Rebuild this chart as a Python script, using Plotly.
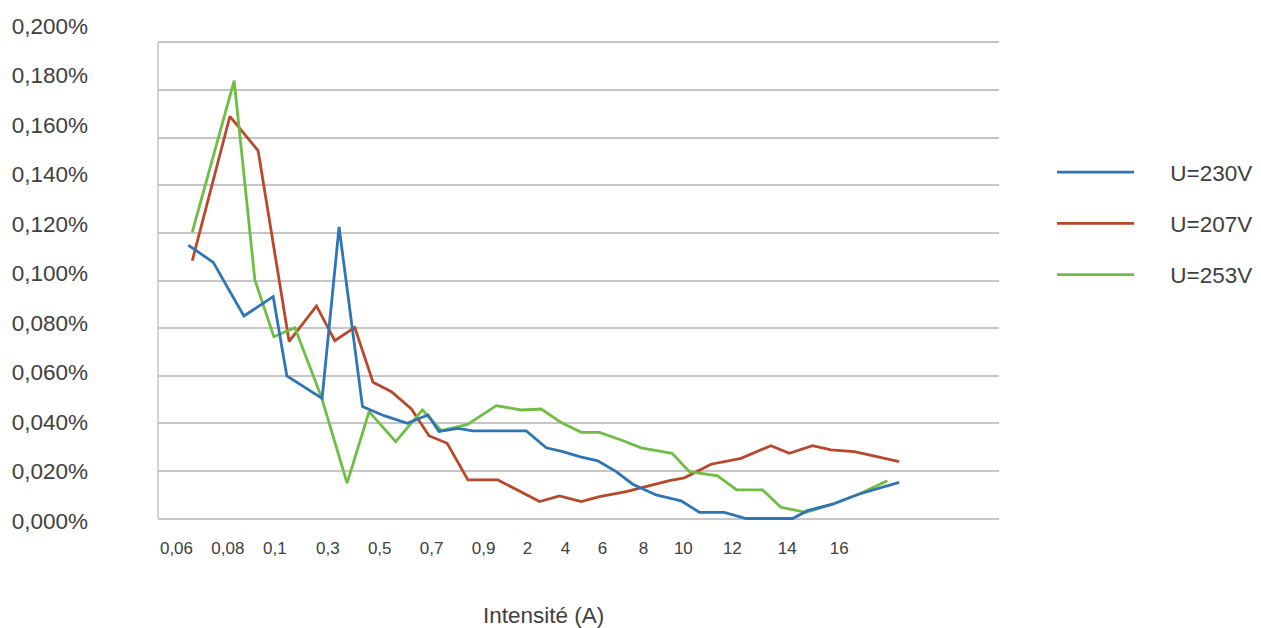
import plotly.graph_objects as go

# ---- data (x in label-slot units, y in %) ----
tick_pos = [0, 1.0, 1.913, 2.942, 3.951, 4.961, 5.971, 6.825, 7.563, 8.282, 9.078, 9.854, 10.806, 11.874, 12.883]
tick_labels = ["0,06", "0,08", "0,1", "0,3", "0,5", "0,7", "0,9", "2", "4", "6", "8", "10", "12", "14", "16"]

y_ticks = [0.0, 0.02, 0.04, 0.06, 0.08, 0.10, 0.12, 0.14, 0.16, 0.18, 0.20]
y_labels = ["0,000%", "0,020%", "0,040%", "0,060%", "0,080%", "0,100%",
            "0,120%", "0,140%", "0,160%", "0,180%", "0,200%"]

u230_x = [0.229, 0.715, 1.311, 1.880, 2.146, 2.831, 3.161, 3.616, 4.035, 4.489, 4.889, 5.103, 5.472, 5.763,
          6.800, 7.188, 7.511, 7.835, 8.190, 8.548, 8.870, 9.324, 9.810, 10.165, 10.650, 11.072, 11.977,
          12.268, 12.753, 13.272, 14.049]
u230_y = [0.1149, 0.1076, 0.0851, 0.0932, 0.0599, 0.0505, 0.1225, 0.0470, 0.0432, 0.0400, 0.0435, 0.0366,
          0.0379, 0.0368, 0.0368, 0.0297, 0.0281, 0.0260, 0.0242, 0.0197, 0.0144, 0.0099, 0.0074, 0.0026,
          0.0026, 0.0, 0.0, 0.0033, 0.0060, 0.0103, 0.0152]

u207_x = [0.307, 1.039, 1.588, 2.190, 2.722, 3.078, 3.466, 3.821, 4.179, 4.567, 4.909, 5.262, 5.666, 6.249,
          7.058, 7.447, 7.868, 8.223, 8.742, 9.130, 9.583, 9.874, 10.392, 10.975, 11.557, 11.913, 12.365,
          12.722, 13.175, 13.530, 14.049]
u207_y = [0.1083, 0.169, 0.1545, 0.0744, 0.0893, 0.0747, 0.0803, 0.0572, 0.0533, 0.0460, 0.0348, 0.0316,
          0.0162, 0.0162, 0.0071, 0.0095, 0.0071, 0.0092, 0.0113, 0.0134, 0.0159, 0.0171, 0.0228, 0.0253,
          0.0306, 0.0274, 0.0306, 0.0288, 0.0281, 0.0264, 0.0239]

u253_x = [0.307, 1.122, 1.524, 1.893, 2.301, 2.819, 3.317, 3.744, 4.262, 4.781, 5.150, 5.666, 6.217, 6.703,
          7.091, 7.480, 7.868, 8.223, 8.645, 9.033, 9.635, 9.971, 10.520, 10.889, 11.394, 11.751, 12.237,
          12.753, 13.272, 13.821]
u253_y = [0.1203, 0.184, 0.1002, 0.0764, 0.0802, 0.0509, 0.0149, 0.0449, 0.0323, 0.0456, 0.0369, 0.0396,
          0.0474, 0.0456, 0.0460, 0.0403, 0.0362, 0.0362, 0.0330, 0.0297, 0.0274, 0.0197, 0.0179, 0.0120,
          0.0120, 0.0047, 0.0026, 0.0060, 0.0103, 0.0159]

series = [
    ("U=207V", u207_x, u207_y, "#B9472A", 2),
    ("U=253V", u253_x, u253_y, "#70BD44", 3),
    ("U=230V", u230_x, u230_y, "#2E75B6", 1),
]

FONT = "Liberation Sans"
TXT = "#404040"
GRID = "#c6c6c6"
PAD = "\u00a0" * 5

fig = go.Figure()
for name, xs, ys, col, rank in series:
    fig.add_trace(go.Scatter(x=xs, y=ys, mode="lines", name=PAD + name, legendrank=rank,
                             legendgroup=name, line=dict(color=col, width=2.8)))

# carrier for the label axis (draws nothing)
fig.add_trace(go.Scatter(x=[tick_pos[0]], y=[y_ticks[0]], mode="none", yaxis="y2",
                         showlegend=False, hoverinfo="skip"))

fig.update_layout(
    width=1261, height=628, autosize=False,
    margin=dict(l=150, r=269, t=12, b=112),
    paper_bgcolor="white", plot_bgcolor="white",
    font=dict(family=FONT, color=TXT),
    xaxis=dict(range=[-0.359, 15.990], tickmode="array", tickvals=tick_pos, ticktext=tick_labels,
               showgrid=False, zeroline=False, showline=False, ticks="", automargin=False,
               tickfont=dict(size=17, color=TXT), ticklabelstandoff=12),
    yaxis=dict(range=[-0.00231, 0.20945], tickmode="array", tickvals=y_ticks, automargin=False,
               showticklabels=False, showgrid=True, gridcolor=GRID, gridwidth=1.5,
               zeroline=False, showline=False, ticks=""),
    yaxis2=dict(overlaying="y", side="left", range=[-0.00121, 0.20242], tickmode="array",
                tickvals=y_ticks, ticktext=y_labels, showgrid=False, zeroline=False, automargin=False,
                showline=False, ticks="", tickfont=dict(size=22.5, color=TXT), ticklabelstandoff=69),
    legend=dict(x=1.0618, y=0.74, xanchor="left", yanchor="top", font=dict(size=22.5, color=TXT),
                itemwidth=77, tracegroupgap=19, bgcolor="rgba(0,0,0,0)"),
    shapes=[dict(type="line", xref="paper", x0=0, x1=0, yref="y", y0=0, y1=0.2,
                 line=dict(color=GRID, width=1.5))],
    annotations=[dict(text="Intensité (A)", xref="paper", yref="paper", x=0.4584, y=-0.1806,
                      xanchor="center", yanchor="middle", showarrow=False,
                      font=dict(size=22.5, color=TXT))],
)

fig.write_html("out.html")
